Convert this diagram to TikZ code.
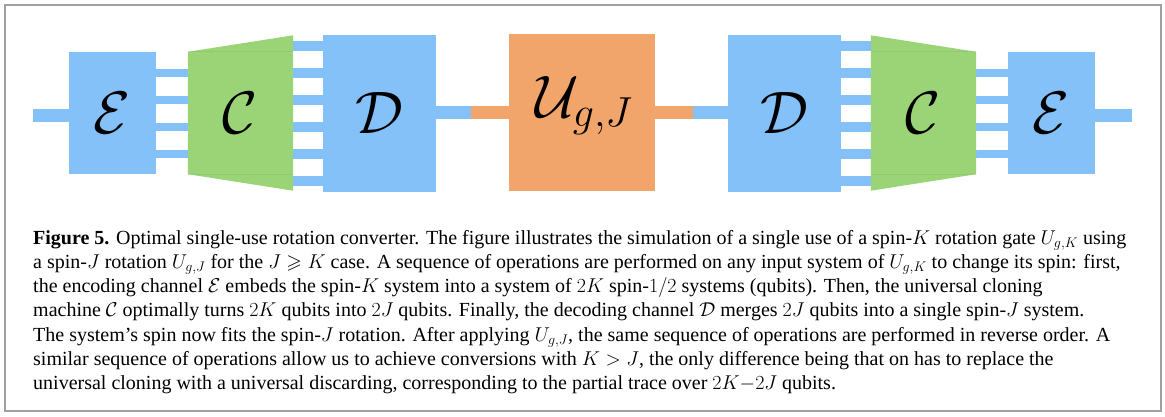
\RequirePackage{fix-cm}
\documentclass[tikz,border=0pt]{standalone}
\usepackage{amsmath,amsfonts,amssymb}
\usepackage{fontspec}
\setmainfont{Liberation Serif}
\usepackage{tikz}
\usetikzlibrary{calc}

\definecolor{chanblue}{HTML}{84C1F8}
\definecolor{clonegreen}{HTML}{9BD377}
\definecolor{rotorange}{HTML}{F2A56A}
\definecolor{framegray}{HTML}{A0A0A0}

\begin{document}
\begin{tikzpicture}[x=1pt, y=-1pt,
  box/.style={fill=#1, inner sep=0pt, font=\fontsize{60}{72}\selectfont},
  hull/.style={inner sep=0pt, font=\fontsize{60}{72}\selectfont},
  wire/.style={draw=#1, line width=8pt},
  bigwire/.style={draw=#1, line width=13pt},
  capline/.style={anchor=base west, inner sep=0pt, font=\fontsize{20}{24}\selectfont}]
\useasboundingbox (0,0) rectangle (1165,416);
\draw[framegray, line width=1.5pt] (5,5) rectangle (1161,411);

% boxes
\node[box=chanblue, minimum width=87pt, minimum height=122pt] (E1) at (112.5,113) {$\mathcal{E}$};
\node[hull, minimum width=105pt, minimum height=155pt] (C1) at (240.5,113) {};
\node[box=chanblue, minimum width=113pt, minimum height=157pt] (D1) at (379.5,113) {$\mathcal{D}$};
\node[box=rotorange, minimum width=146pt, minimum height=157pt] (U) at (582,112) {};
\node[box=chanblue, minimum width=113pt, minimum height=157pt] (D2) at (784.5,113) {$\mathcal{D}$};
\node[hull, minimum width=105pt, minimum height=155pt] (C2) at (923.5,113) {};
\node[box=chanblue, minimum width=87pt, minimum height=122pt] (E2) at (1051.5,113) {$\mathcal{E}$};

% cloners
\fill[clonegreen] ([yshift=-16.5pt]C1.north west) -- (C1.north east) -- (C1.south east) -- ([yshift=16.5pt]C1.south west) -- cycle;
\draw[clonegreen!80!black, opacity=.25, line width=.8pt] ([yshift=-16.5pt]C1.north west) -- ([yshift=-16.5pt]C1.north east)
  ([yshift=16.5pt]C1.south west) -- ([yshift=16.5pt]C1.south east);
\node[hull] at (C1) {$\mathcal{C}$};
\fill[clonegreen] (C2.north west) -- ([yshift=-16.5pt]C2.north east) -- ([yshift=16.5pt]C2.south east) -- (C2.south west) -- cycle;
\draw[clonegreen!80!black, opacity=.25, line width=.8pt] ([yshift=-16.5pt]C2.north west) -- ([yshift=-16.5pt]C2.north east)
  ([yshift=16.5pt]C2.south west) -- ([yshift=16.5pt]C2.south east);
\node[hull] at (C2) {$\mathcal{C}$};
\node[hull, anchor=base] at (584,117) {$\mathcal{U}_{g,J}$};

% wires
\coordinate (in) at (33,115.5);
\coordinate (out) at (1132,115.5);
\coordinate (m1) at (471,112.5);
\coordinate (m2) at (693,112.5);
\draw[bigwire=chanblue] (in) -- (in -| E1.west);
\draw[bigwire=chanblue] (out) -- (out -| E2.east);
\draw[bigwire=chanblue] (m1 -| D1.east) -- (m1);
\draw[bigwire=rotorange] (m1) -- (m1 -| U.west);
\draw[bigwire=rotorange] (m2 -| U.east) -- (m2);
\draw[bigwire=chanblue] (m2) -- (m2 -| D2.west);
\foreach \dy in {-40.5,-13.5,13.5,40.5} {
  \draw[wire=chanblue] ([yshift=\dy pt]E1.east) -- ([yshift=\dy pt]C1.west);
  \draw[wire=chanblue] ([yshift=\dy pt]C2.east) -- ([yshift=\dy pt]E2.west);
}
\foreach \dy in {-67.5,-40.5,-13.5,13.5,40.5,67.5} {
  \draw[wire=chanblue, line width=10pt] ([yshift=\dy pt]C1.east) -- ([yshift=\dy pt]D1.west);
  \draw[wire=chanblue, line width=10pt] ([yshift=\dy pt]D2.east) -- ([yshift=\dy pt]C2.west);
}

% caption
\node[capline] (cap1) at (33,244) {\textbf{Figure 5.} Optimal single-use rotation converter. The figure illustrates the simulation of a single use of a spin-$K$ rotation gate $U_{g,K}$ using};
\node[capline] (cap2) at (33,268.3) {a spin-$J$ rotation $U_{g,J}$ for the $J \geqslant K$ case. A sequence of operations are performed on any input system of $U_{g,K}$ to change its spin: first,};
\node[capline] (cap3) at (33,292.6) {the encoding channel $\mathcal{E}$ embeds the spin-$K$ system into a system of $2K$ spin-$1/2$ systems (qubits). Then, the universal cloning};
\node[capline] (cap4) at (33,316.9) {machine $\mathcal{C}$ optimally turns $2K$ qubits into $2J$ qubits. Finally, the decoding channel $\mathcal{D}$ merges $2J$ qubits into a single spin-$J$ system.};
\node[capline] (cap5) at (33,341.2) {The system's spin now fits the spin-$J$ rotation. After applying $U_{g,J}$, the same sequence of operations are performed in reverse order. A};
\node[capline] (cap6) at (33,365.5) {similar sequence of operations allow us to achieve conversions with $K > J$, the only difference being that on has to replace the};
\node[capline] (cap7) at (33,389.8) {universal cloning with a universal discarding, corresponding to the partial trace over $2K{-}2J$ qubits.};
\end{tikzpicture}
\end{document}
